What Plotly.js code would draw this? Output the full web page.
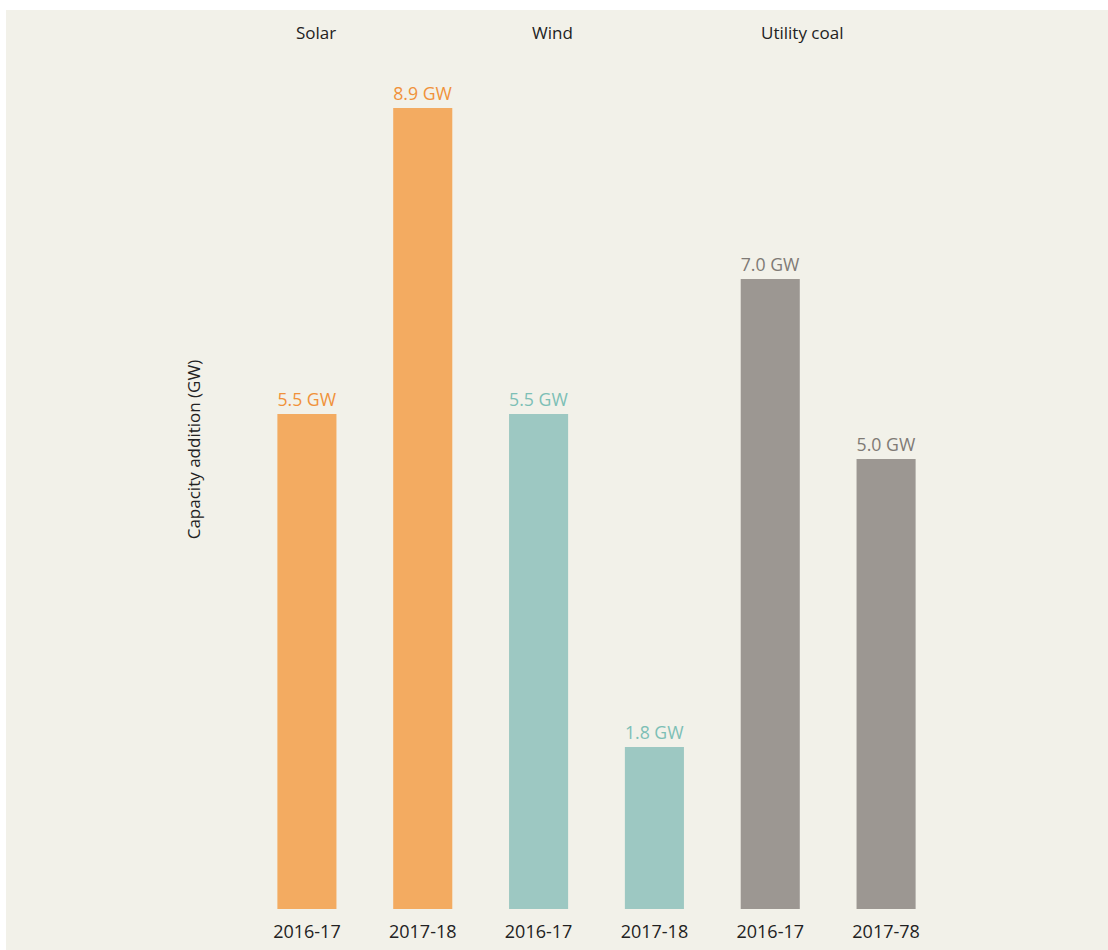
<!DOCTYPE html>
<html>
<head>
<meta charset="utf-8">
<script src="https://cdn.plot.ly/plotly-3.0.1.min.js"></script>
<style>
html,body{margin:0;padding:0;background:#ffffff;}
#chart{position:absolute;left:6px;top:10px;width:1102px;height:940px;}
</style>
</head>
<body>
<div id="chart"></div>
<script>
const groups = ["Solar", "Wind", "Utility coal"];
const periods = ["2016-17", "2017-18", "2016-17", "2017-18", "2016-17", "2017-78"];
const values = [5.5, 8.9, 5.5, 1.8, 7.0, 5.0];
const valueLabels = ["5.5 GW", "8.9 GW", "5.5 GW", "1.8 GW", "7.0 GW", "5.0 GW"];
const barColors = ["#f3ab61", "#f3ab61", "#9dc8c2", "#9dc8c2", "#9c9792", "#9c9792"];
const labelColors = ["#f0913a", "#f0913a", "#7dbfb6", "#7dbfb6", "#7f7a75", "#7f7a75"];

const xs = periods.map((p, i) => i);

const trace = {
  type: "bar",
  x: xs,
  y: values,
  text: valueLabels,
  textposition: "outside",
  cliponaxis: false,
  textfont: {family: "Open Sans, sans-serif", size: 18, color: labelColors},
  marker: {color: barColors, line: {width: 0}},
  hoverinfo: "skip"
};

const groupX = [0.08, 2.12, 4.27];
const annotations = groups.map((g, i) => ({
  text: g, x: groupX[i], xref: "x", y: 1, yref: "paper", yshift: -14,
  yanchor: "middle", xanchor: "center", showarrow: false,
  font: {family: "Open Sans, sans-serif", size: 17, color: "#222222"}
}));
annotations.push({
  text: "Capacity addition (GW)", textangle: -90,
  x: -0.0797, xref: "paper", y: 0.5155, yref: "paper",
  xanchor: "center", yanchor: "middle", showarrow: false,
  font: {family: "Open Sans, sans-serif", size: 17, color: "#222222"}
});

const layout = {
  width: 1102, height: 940,
  margin: {l: 242.5, r: 163.5, t: 8, b: 41},
  paper_bgcolor: "#f2f1e9",
  plot_bgcolor: "#f2f1e9",
  bargap: 0.49,
  showlegend: false,
  xaxis: {
    range: [-0.5, 5.5], tickvals: xs, ticktext: periods,
    showgrid: false, zeroline: false, showline: false, ticks: "",
    ticklabelstandoff: 10,
    tickfont: {family: "Open Sans, sans-serif", size: 18, color: "#222222"}
  },
  yaxis: {
    range: [0, 9.9], showgrid: false, zeroline: false, showline: false,
    showticklabels: false, ticks: ""
  },
  annotations: annotations
};

Plotly.newPlot("chart", [trace], layout, {displayModeBar: false, staticPlot: true});
</script>
</body>
</html>
